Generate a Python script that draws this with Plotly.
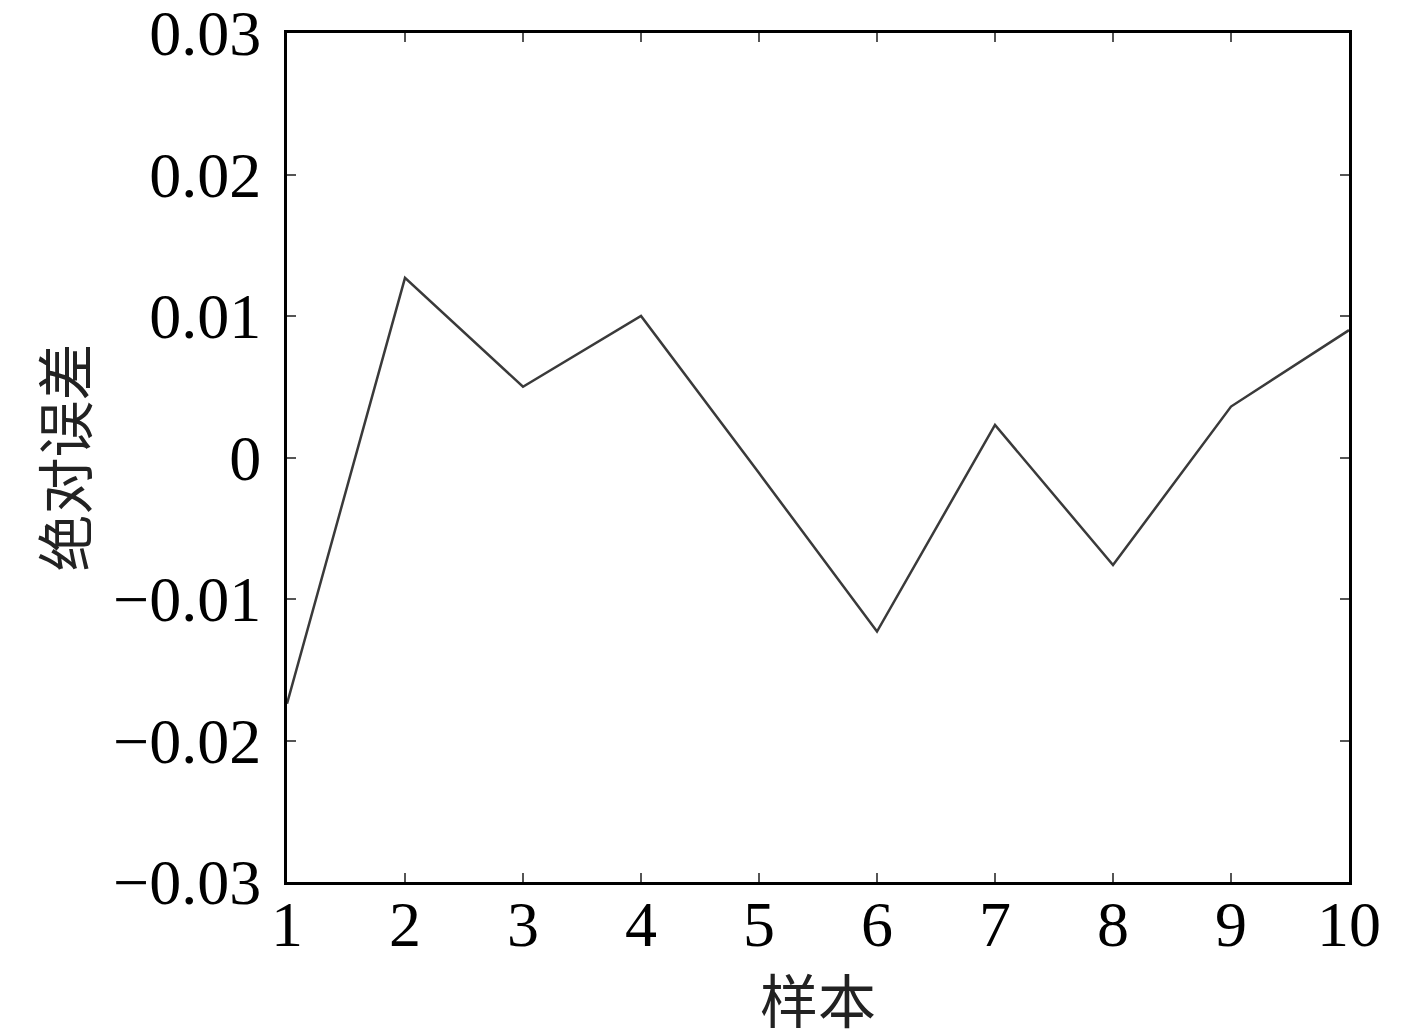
import plotly.graph_objects as go

samples = [1, 2, 3, 4, 5, 6, 7, 8, 9, 10]
abs_error = [-0.0174, 0.0127, 0.0050, 0.0100, -0.0011, -0.0123, 0.0023, -0.0076, 0.0036, 0.0090]

y_ticks = [-0.03, -0.02, -0.01, 0, 0.01, 0.02, 0.03]
y_labels = ["\u22120.03", "\u22120.02", "\u22120.01", "0", "0.01", "0.02", "0.03"]

SERIF = "Liberation Serif, Times New Roman, serif"
CJK = "Noto Sans CJK SC, sans-serif"

AXIS = dict(
    showline=True, linecolor="black", linewidth=3, automargin=False,
    mirror="allticks", ticks="inside", ticklen=9, tickwidth=1.5, tickcolor="#555",
    showgrid=False, zeroline=False, ticklabeloverflow="allow",
    tickfont=dict(family=SERIF, size=64, color="black"),
)

fig = go.Figure(
    go.Scatter(
        x=samples, y=abs_error, mode="lines",
        line=dict(color="#3a3a3a", width=2.5),
        showlegend=False,
    )
)

# page body adds 8px offset, margins compensate for it
fig.update_layout(
    width=1417, height=1032,
    paper_bgcolor="white", plot_bgcolor="white",
    margin=dict(l=279, r=76, t=25, b=158),
    xaxis=dict(
        **AXIS, range=[1, 10], tickvals=samples, ticklabelstandoff=-16,
        title=dict(text="样本", font=dict(family=CJK, size=58, color="#222"), standoff=0),
    ),
    yaxis=dict(
        **AXIS, range=[-0.03, 0.03], tickvals=y_ticks, ticktext=y_labels, ticklabelstandoff=10,
        title=dict(text="绝对误差", font=dict(family=CJK, size=57, color="#222"), standoff=8),
    ),
)

fig.write_html("out.html")
